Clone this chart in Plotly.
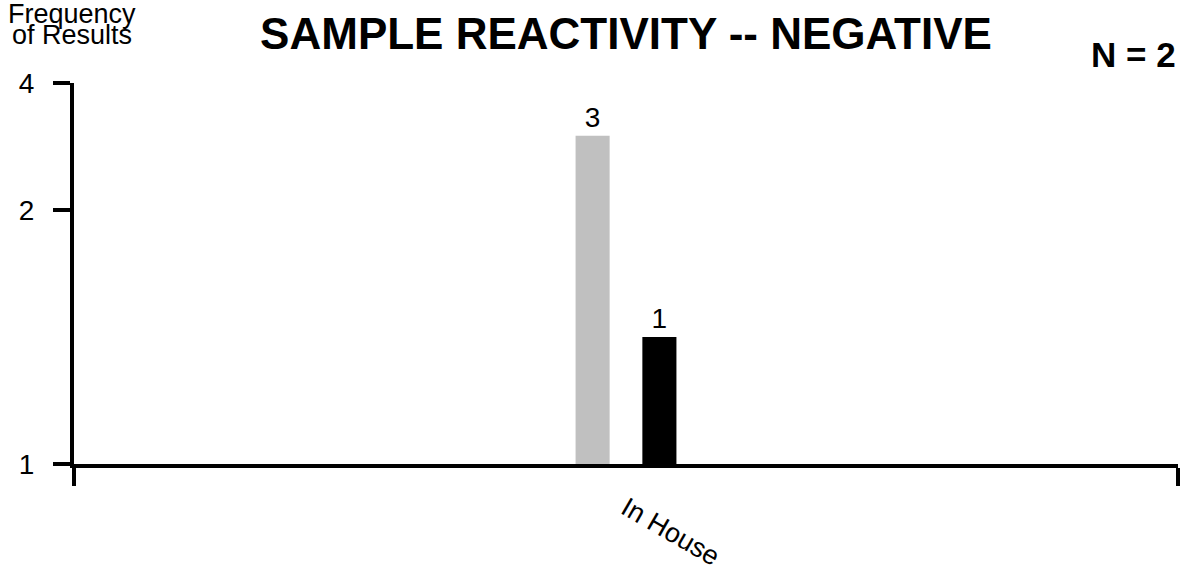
import math
import plotly.graph_objects as go

# ---- data ----
categories = ["In House"]
series_names = ["Gray", "Black"]
gray_values = [3]
black_values = [1]
y_tick_values = [0.5, 2, 4]
y_tick_labels = ["1", "2", "4"]
title_text = "SAMPLE REACTIVITY -- NEGATIVE"
n_text = "N = 2"
y_title_lines = ["Frequency", "of Results"]

FONT = "Liberation Sans, Arial, Helvetica, sans-serif"
W, H = 1184, 572
ML, MR, MT, MB = 74, 6, 83, 107.5

fig = go.Figure()
fig.add_trace(go.Bar(
    x=categories, y=gray_values, name=series_names[0],
    marker=dict(color="#C0C0C0", line=dict(width=0)),
    text=[str(v) for v in gray_values], textposition="outside",
    textfont=dict(family=FONT, size=28, color="black"),
    constraintext="none", cliponaxis=False,
))
fig.add_trace(go.Bar(
    x=categories, y=black_values, name=series_names[1],
    marker=dict(color="#000000", line=dict(width=0)),
    text=[str(v) for v in black_values], textposition="outside",
    textfont=dict(family=FONT, size=28, color="black"),
    constraintext="none", cliponaxis=False,
))

plot_h = H - MT - MB

def py(pixel):
    # pixel from top of the page -> paper y
    return (H - MB - pixel) / plot_h

annotations = [
    dict(text=y_title_lines[0], x=-0.002, xref="paper", xanchor="center",
         y=py(14), yref="paper", yanchor="middle", showarrow=False,
         font=dict(family=FONT, size=27, color="black")),
    dict(text=y_title_lines[1], x=-0.002, xref="paper", xanchor="center",
         y=py(35), yref="paper", yanchor="middle", showarrow=False,
         font=dict(family=FONT, size=27, color="black")),
    dict(text="<b>" + n_text + "</b>", x=1, xref="paper", xanchor="right",
         y=py(54), yref="paper", yanchor="middle", showarrow=False,
         font=dict(family=FONT, size=35, color="black")),
]

fig.update_layout(
    width=W, height=H,
    margin=dict(l=ML, r=MR, t=MT, b=MB, pad=0, autoexpand=False),
    paper_bgcolor="white", plot_bgcolor="white",
    showlegend=False,
    barmode="group", bargap=0.879, bargroupgap=0.49,
    title=dict(text="<b>" + title_text + "</b>", x=0.5, xref="paper", xanchor="center",
               y=1 - 34 / H, yref="container", yanchor="middle",
               font=dict(family=FONT, size=44, color="black")),
    font=dict(family=FONT, color="black"),
    annotations=annotations,
    xaxis=dict(
        showline=True, linecolor="black", linewidth=4,
        ticks="outside", ticklen=18, tickwidth=4, tickcolor="black",
        tickson="boundaries", tickangle=30,
        tickfont=dict(family=FONT, size=27, color="black"),
        ticklabelstandoff=14, automargin=False,
        showgrid=False, zeroline=False, range=[-0.5, 0.5],
    ),
    yaxis=dict(
        type="log", range=[math.log10(0.5), math.log10(4)],
        showline=True, linecolor="black", linewidth=4,
        ticks="outside", ticklen=17, tickwidth=4, tickcolor="black",
        tickmode="array", tickvals=y_tick_values, ticktext=y_tick_labels,
        tickfont=dict(family=FONT, size=28, color="black"),
        ticklabelstandoff=13, automargin=False,
        showgrid=False, zeroline=False,
    ),
)

fig.write_html("out.html", config={"displayModeBar": False},
               post_script="document.body.style.margin='0px';")
